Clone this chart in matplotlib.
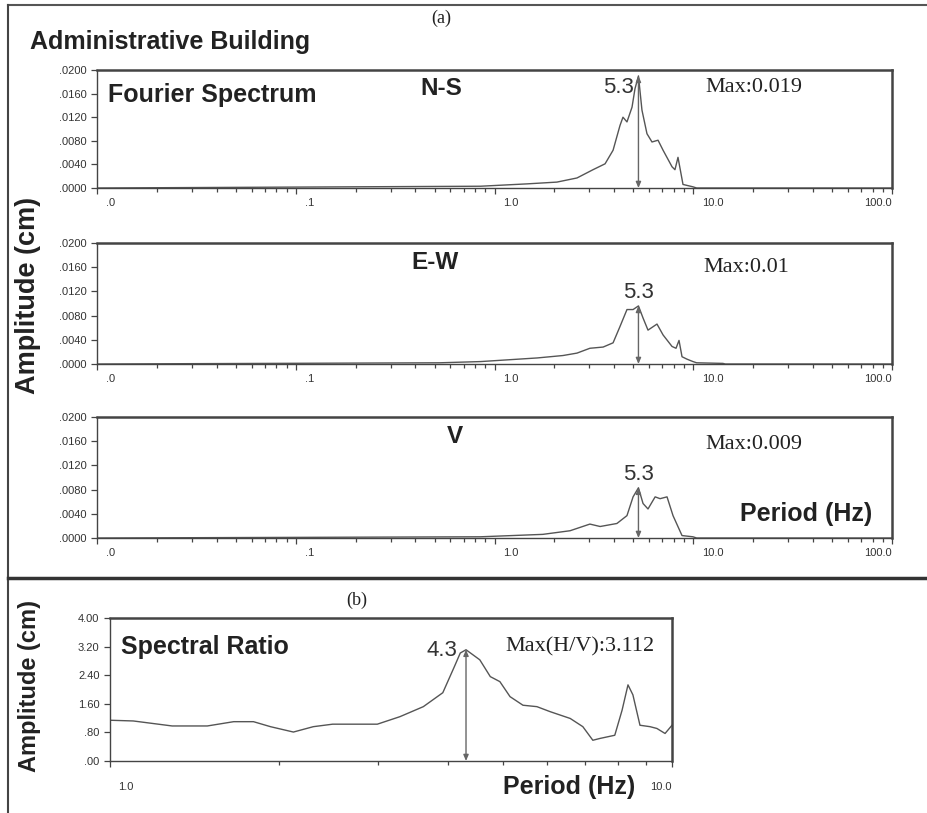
#!/usr/bin/env python3
"""Fourier spectra (N-S, E-W, V) and H/V spectral ratio, Administrative Building"""

import matplotlib
matplotlib.use('Agg')
import matplotlib.pyplot as plt
from matplotlib.lines import Line2D
from matplotlib.ticker import FixedLocator, NullFormatter
import matplotlib.transforms as mtransforms

plt.rcParams['font.family'] = ['Liberation Sans', 'DejaVu Sans']

# ---- data ---------------------------------------------------------------
NS_FREQ = [0.01, 0.85, 1.46, 2.06, 2.60, 3.13, 3.60, 3.95, 4.28, 4.43, 4.64, 4.92, 5.09,
           5.3, 5.52, 5.85, 6.20, 6.65, 7.05, 7.82, 8.09, 8.38, 8.67, 8.88, 9.97, 10.4, 100.0]
NS_AMP = [0.0, 0.0003, 0.0007, 0.0010, 0.0017, 0.0031, 0.0041, 0.0064, 0.0106, 0.0120,
          0.0112, 0.0137, 0.0168, 0.0190, 0.0132, 0.0092, 0.0078, 0.0081, 0.0064, 0.0036,
          0.0031, 0.0052, 0.0025, 0.0006, 0.0002, 0.0, 0.0]

EW_FREQ = [0.01, 0.53, 0.85, 1.64, 2.21, 2.60, 3.02, 3.52, 3.95, 4.28, 4.64, 4.98, 5.3,
           5.59, 5.92, 6.57, 7.05, 7.82, 8.19, 8.48, 8.78, 9.30, 9.97, 10.4, 14.1, 14.5, 100.0]
EW_AMP = [0.0, 0.0002, 0.0004, 0.0010, 0.0014, 0.0018, 0.0026, 0.0028, 0.0035, 0.0062,
          0.0090, 0.0090, 0.0096, 0.0076, 0.0056, 0.0066, 0.0048, 0.0029, 0.0026, 0.0039,
          0.0012, 0.0008, 0.0004, 0.0002, 0.0001, 0.0, 0.0]

V_FREQ = [0.01, 0.85, 1.75, 2.40, 3.02, 3.40, 4.13, 4.64, 4.98, 5.3, 5.59, 5.92, 6.43,
          6.81, 7.38, 7.91, 8.78, 9.97, 10.4, 100.0]
V_AMP = [0.0, 0.0002, 0.0006, 0.0012, 0.0023, 0.0019, 0.0024, 0.0037, 0.0068, 0.0083,
         0.0057, 0.0048, 0.0068, 0.0065, 0.0068, 0.0037, 0.0004, 0.0002, 0.0, 0.0]

HV_FREQ = [1.0, 1.10, 1.29, 1.49, 1.66, 1.80, 1.93, 2.12, 2.30, 2.49, 2.99, 3.28, 3.61,
           3.91, 4.10, 4.20, 4.3, 4.55, 4.75, 4.94, 5.15, 5.43, 5.75, 6.07, 6.59, 6.94,
           7.23, 7.44, 7.91, 8.15, 8.35, 8.52, 8.77, 9.14, 9.40, 9.72, 10.0]
HV_AMP = [1.14, 1.12, 0.98, 0.98, 1.10, 1.10, 0.96, 0.81, 0.96, 1.03, 1.03, 1.24, 1.52,
          1.91, 2.64, 3.02, 3.112, 2.83, 2.36, 2.22, 1.80, 1.56, 1.52, 1.38, 1.19, 0.96,
          0.58, 0.63, 0.72, 1.42, 2.13, 1.85, 1.00, 0.96, 0.91, 0.77, 1.00]

COMPONENTS = ['N-S', 'E-W', 'V']
PEAK_FREQ = [5.3, 5.3, 5.3]
MAX_LABELS = ['Max:0.019', 'Max:0.01', 'Max:0.009']
FS_YTICKS = [0.0, 0.004, 0.008, 0.012, 0.016, 0.020]
FS_XTICKS = [0.01, 0.1, 1.0, 10.0, 100.0]
FS_XLABELS = ['.0', '.1', '1.0', '10.0', '100.0']

HV_PEAK = 4.3
HV_MAX_LABEL = 'Max(H/V):3.112'
HV_YTICKS = [0.0, 0.8, 1.6, 2.4, 3.2, 4.0]
HV_YLABELS = ['.00', '.80', '1.60', '2.40', '3.20', '4.00']

LINE = '#555555'
FRAME = '#444444'
TEXT = '#222222'
TICKFONT = ['Liberation Sans Narrow', 'Liberation Sans']
W, H = 927, 813

# text placement inside each Fourier panel (axes fractions)
COMP_POS = [(0.433, 0.84), (0.425, 0.835), (0.450, 0.835)]
MAX_POS = [(0.765, 0.85), (0.763, 0.80), (0.765, 0.77)]


def fig_rect(left, top, right, bottom):
    """pixel box -> figure fraction rect"""
    return [left / W, 1 - bottom / H, (right - left) / W, (bottom - top) / H]


def style_axis(axis):
    for side in axis.spines.values():
        side.set_color(FRAME)
        side.set_linewidth(1.0)
    axis.spines['top'].set_linewidth(1.8)
    axis.spines['right'].set_linewidth(1.8)
    axis.tick_params(which='both', direction='out', color=FRAME, labelsize=8,
                     labelcolor='#333333', top=False, right=False)
    axis.tick_params(which='major', length=4, width=0.9)
    axis.tick_params(which='minor', length=3, width=0.9)
    for lab in axis.get_xticklabels() + axis.get_yticklabels():
        lab.set_family(TICKFONT)


def shift_right(label, pixels):
    label.set_horizontalalignment('left')
    label.set_transform(label.get_transform() +
                        mtransforms.ScaledTranslation(pixels / 100, 0, fig.dpi_scale_trans))


def peak_marker(axis, x, y):
    axis.annotate('', xy=(x, y), xytext=(x, 0),
                  arrowprops=dict(arrowstyle='<|-|>,head_length=0.35,head_width=0.15',
                                  color='#666666', lw=1.0, shrinkA=0, shrinkB=0))


fig = plt.figure(figsize=(W / 100, H / 100), dpi=100)

series = [(NS_FREQ, NS_AMP), (EW_FREQ, EW_AMP), (V_FREQ, V_AMP)]
boxes = [(97, 70, 892, 188), (97, 243, 892, 364), (97, 417, 892, 538)]
for k, ((freq, amp), box) in enumerate(zip(series, boxes)):
    ax = fig.add_axes(fig_rect(*box))
    ax.plot(freq, amp, color=LINE, lw=1.0)
    ax.set_xscale('log')
    ax.set_xlim(0.01, 100)
    ax.set_ylim(0, 0.02)
    ax.set_yticks(FS_YTICKS)
    ax.set_yticklabels([f'{v:.4f}'[1:] for v in FS_YTICKS])
    ax.set_xticks(FS_XTICKS)
    ax.set_xticklabels(FS_XLABELS)
    ax.xaxis.set_minor_formatter(NullFormatter())
    style_axis(ax)
    ax.tick_params(axis='x', which='major', pad=3)
    # labels sit to the right of their ticks, except the last one
    xlabels = ax.get_xticklabels()
    for lab in xlabels[:-1]:
        shift_right(lab, 9)
    xlabels[-1].set_horizontalalignment('right')

    peak = max(amp)
    peak_marker(ax, PEAK_FREQ[k], peak)
    if k == 0:
        ax.text(PEAK_FREQ[k] * 0.95, 0.0170, f'{PEAK_FREQ[k]}', ha='right', va='center',
                fontsize=16, color='#333333')
        ax.text(0.014, 0.79, 'Fourier Spectrum', transform=ax.transAxes,
                fontsize=18, weight='bold', color=TEXT, va='center')
    else:
        ax.text(PEAK_FREQ[k], peak + 0.0005, f'{PEAK_FREQ[k]}', ha='center', va='bottom',
                fontsize=16, color='#333333')
    ax.text(*MAX_POS[k], MAX_LABELS[k], transform=ax.transAxes,
            family='Liberation Serif', fontsize=16, color=TEXT, va='center')
    ax.text(*COMP_POS[k], COMPONENTS[k], transform=ax.transAxes,
            fontsize=17.5, weight='bold', color=TEXT, ha='center', va='center')
    if k == 2:
        ax.text(0.975, 0.2, 'Period (Hz)', transform=ax.transAxes,
                fontsize=18, weight='bold', color=TEXT, ha='right', va='center')

# spectral ratio
ax = fig.add_axes(fig_rect(110, 618, 672, 761))
ax.plot(HV_FREQ, HV_AMP, color=LINE, lw=1.0)
ax.set_xscale('log')
ax.set_xlim(1, 10)
ax.set_ylim(0, 4)
ax.set_yticks(HV_YTICKS)
ax.set_yticklabels(HV_YLABELS)
ax.set_xticks([1.0, 10.0])
ax.set_xticklabels(['1.0', '10.0'])
ax.xaxis.set_minor_locator(FixedLocator([2, 3, 4, 5, 6, 7, 8, 9]))
ax.xaxis.set_minor_formatter(NullFormatter())
style_axis(ax)
ax.tick_params(axis='x', which='major', pad=11)
hv_labels = ax.get_xticklabels()
shift_right(hv_labels[0], 8)
hv_labels[1].set_horizontalalignment('right')
peak_marker(ax, HV_PEAK, max(HV_AMP))
ax.text(HV_PEAK * 0.965, 3.1, f'{HV_PEAK}', ha='right', va='center',
        fontsize=16, color='#333333')
ax.text(0.836, 0.80, HV_MAX_LABEL, transform=ax.transAxes, ha='center', va='center',
        family='Liberation Serif', fontsize=16, color=TEXT)
ax.text(0.02, 0.80, 'Spectral Ratio', transform=ax.transAxes,
        fontsize=18, weight='bold', color=TEXT, va='center')
ax.text(0.935, -0.185, 'Period (Hz)', transform=ax.transAxes,
        fontsize=18, weight='bold', color=TEXT, ha='right', va='center')

# figure level labels
fig.text(30 / W, 1 - 42 / H, 'Administrative Building', fontsize=18, weight='bold',
         color=TEXT, va='center')
fig.text(441 / W, 1 - 18 / H, '(a)', family='Liberation Serif', fontsize=13,
         color=TEXT, ha='center', va='center')
fig.text(357 / W, 1 - 600 / H, '(b)', family='Liberation Serif', fontsize=13,
         color=TEXT, ha='center', va='center')
fig.text(28 / W, 1 - 295 / H, 'Amplitude (cm)', rotation=90, fontsize=19.5, weight='bold',
         color=TEXT, ha='center', va='center')
fig.text(30 / W, 1 - 686 / H, 'Amplitude (cm)', rotation=90, fontsize=17, weight='bold',
         color=TEXT, ha='center', va='center')

# page frame lines
fig.add_artist(Line2D([8 / W, 1], [1 - 5 / H, 1 - 5 / H], color='#555555', lw=1.5))
fig.add_artist(Line2D([8 / W, 8 / W], [1 - 5 / H, 0], color='#444444', lw=1.5))
fig.add_artist(Line2D([8 / W, 1], [1 - 578 / H, 1 - 578 / H], color='#333333', lw=2.5))

fig.savefig('out.png', dpi=100)
